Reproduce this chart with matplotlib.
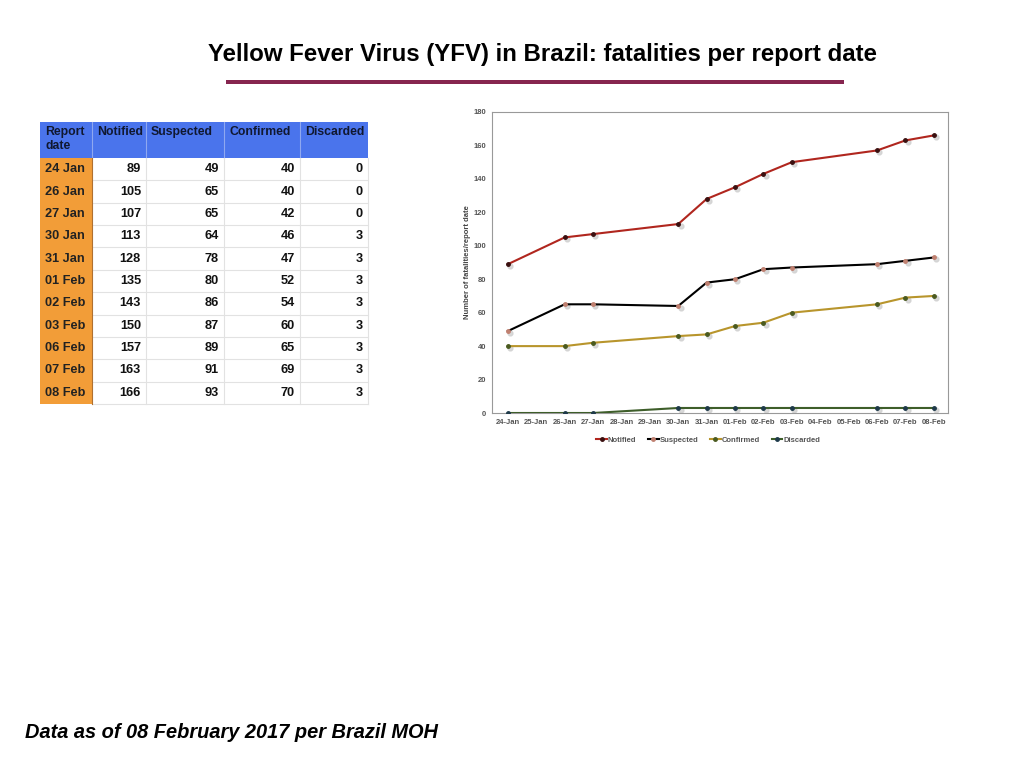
import numpy as np
import matplotlib.pyplot as plt
from matplotlib.patches import Rectangle

plt.rcParams['font.family'] = ['Liberation Sans', 'DejaVu Sans']

# data
report_dates = ["24 Jan", "26 Jan", "27 Jan", "30 Jan", "31 Jan", "01 Feb",
                "02 Feb", "03 Feb", "06 Feb", "07 Feb", "08 Feb"]
notified = [89, 105, 107, 113, 128, 135, 143, 150, 157, 163, 166]
suspected = [49, 65, 65, 64, 78, 80, 86, 87, 89, 91, 93]
confirmed = [40, 40, 42, 46, 47, 52, 54, 60, 65, 69, 70]
discarded = [0, 0, 0, 3, 3, 3, 3, 3, 3, 3, 3]

axis_days = ["24-Jan", "25-Jan", "26-Jan", "27-Jan", "28-Jan", "29-Jan", "30-Jan",
             "31-Jan", "01-Feb", "02-Feb", "03-Feb", "04-Feb", "05-Feb", "06-Feb",
             "07-Feb", "08-Feb"]
report_axis = ["24-Jan", "26-Jan", "27-Jan", "30-Jan", "31-Jan", "01-Feb",
               "02-Feb", "03-Feb", "06-Feb", "07-Feb", "08-Feb"]

headers = ["Report\ndate", "Notified", "Suspected", "Confirmed", "Discarded"]

fig = plt.figure(figsize=(10.24, 7.68), dpi=100)

# page layer in pixel coordinates
page = fig.add_axes([0, 0, 1, 1])
page.set_xlim(0, 1024)
page.set_ylim(768, 0)
page.axis("off")

page.text(542, 54, "Yellow Fever Virus (YFV) in Brazil: fatalities per report date",
          ha="center", va="center", fontsize=17.3, fontweight="bold")
page.add_patch(Rectangle((226, 80), 618, 4, color="#86254F", lw=0))
page.text(25, 733, "Data as of 08 February 2017 per Brazil MOH",
          ha="left", va="center", fontsize=14.4, fontweight="bold", style="italic")

# table
col_x = [40, 92, 146, 224, 300, 368]
top, head_h = 122, 36
row_h = (404 - 158) / len(report_dates)
page.add_patch(Rectangle((col_x[0], top), col_x[-1] - col_x[0], head_h,
                         color="#4A74EC", lw=0))
for i, h in enumerate(headers):
    page.text(col_x[i] + 5, top + 4, h, ha="left", va="top",
              fontsize=8.8, fontweight="bold", color="#101830", linespacing=1.25)
for i in range(1, len(col_x) - 1):
    page.plot([col_x[i], col_x[i]], [top, top + head_h], color="#8FA8F0", lw=0.8)

columns = [notified, suspected, confirmed, discarded]
for r, d in enumerate(report_dates):
    y0 = top + head_h + r * row_h
    page.add_patch(Rectangle((col_x[0], y0), col_x[1] - col_x[0], row_h,
                             color="#F29D38", lw=0))
    page.text(col_x[0] + 5, y0 + row_h / 2, d, ha="left", va="center",
              fontsize=9.2, fontweight="bold", color="#222222")
    for c, vals in enumerate(columns):
        page.text(col_x[c + 2] - 5, y0 + row_h / 2, str(vals[r]), ha="right",
                  va="center", fontsize=9.2, fontweight="bold", color="#111111")
    page.plot([col_x[1], col_x[-1]], [y0 + row_h, y0 + row_h], color="#E2E2E2", lw=0.8)
for i in range(2, len(col_x)):
    page.plot([col_x[i], col_x[i]], [top + head_h, 404], color="#E2E2E2", lw=0.8)
page.plot([col_x[1], col_x[1]], [top + head_h, 404], color="#B07030", lw=0.8)

# chart
ax = fig.add_axes([492 / 1024, 1 - 413 / 768, 456 / 1024, 301 / 768])
xpos = [axis_days.index(d) for d in report_axis]
series = [
    ("Notified", notified, "#B0261E", "#3A1010"),
    ("Suspected", suspected, "#000000", "#C08070"),
    ("Confirmed", confirmed, "#B8952C", "#4A5A20"),
    ("Discarded", discarded, "#3E5E2A", "#1E3A4A"),
]
for name, vals, col, mk in series:
    ax.plot(np.array(xpos) + 0.08, np.array(vals) - 1.2, "o", ms=3.5,
            color="#D0D0D0", alpha=0.8, zorder=2)
    ax.plot(xpos, vals, "-", color=col, lw=1.5, marker="o", ms=2.5,
            mfc=mk, mec=mk, label=name, zorder=3)

ax.set_xlim(-0.56, 15.5)
ax.set_ylim(0, 180)
ax.set_yticks(np.arange(0, 181, 20))
ax.set_xticks(range(len(axis_days)))
ax.set_xticklabels(axis_days)
ax.tick_params(axis="both", labelsize=5.5, colors="#555555", length=0, pad=4)
for lab in ax.get_xticklabels() + ax.get_yticklabels():
    lab.set_fontweight("bold")
ax.set_ylabel("Number of fatalities/report date", fontsize=5.5, color="#444444",
              fontweight="bold", labelpad=2)
for s in ax.spines.values():
    s.set_color("#999999")
    s.set_linewidth(0.8)

leg = ax.legend(loc="upper center", bbox_to_anchor=(0.474, -0.055), ncol=4,
                frameon=False, fontsize=5.5, handlelength=1.4, handletextpad=0.1,
                columnspacing=1.55, labelcolor="#555555")
for t in leg.get_texts():
    t.set_fontweight("bold")

fig.savefig("out.png", dpi=100)
